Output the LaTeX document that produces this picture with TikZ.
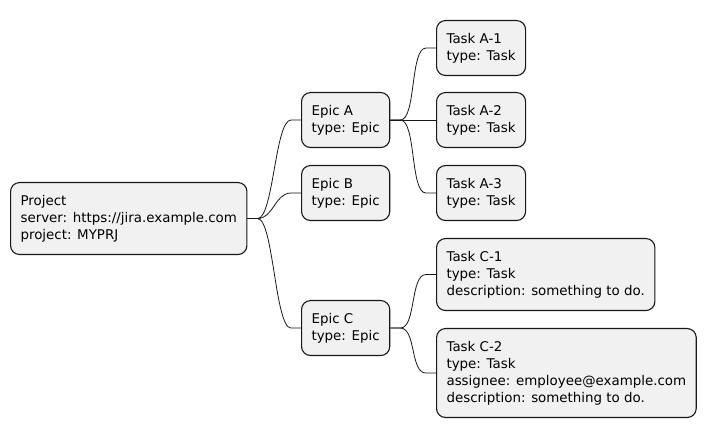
\documentclass[tikz,border=0pt]{standalone}
\usepackage{fontspec}
\setmainfont{DejaVu Sans}
\definecolor{boxfill}{HTML}{F1F1F1}
\definecolor{boxline}{HTML}{181818}
\tikzset{
  mmbox/.style={draw=boxline, fill=boxfill, line width=1.1pt, rounded corners=9pt,
    align=left, anchor=north west, inner xsep=10pt, inner ysep=12.5pt,
    font=\fontsize{13.4}{17}\selectfont},
  link/.style={draw=boxline, line width=0.8pt}
}
\newcommand{\mmlink}[2]{\draw[link] (#1.east) -- ++(10,0) .. controls +(16,0) and ([xshift=-26pt]#2.west) .. ([xshift=-10pt]#2.west) -- (#2.west);}
\begin{document}
\begin{tikzpicture}[x=1pt,y=-1pt]
\useasboundingbox (0,0) rectangle (705,435);
\node[mmbox] (p) at (10,182) {Project\\server: https://jira.example.com\\project: MYPRJ};
\node[mmbox] (ea) at (301,92) {Epic A\\type: Epic};
\node[mmbox] (eb) at (301,165) {Epic B\\type: Epic};
\node[mmbox] (ec) at (301,300) {Epic C\\type: Epic};
\node[mmbox] (ta1) at (436,20) {Task A-1\\type: Task};
\node[mmbox] (ta2) at (436,92) {Task A-2\\type: Task};
\node[mmbox] (ta3) at (436,165) {Task A-3\\type: Task};
\node[mmbox] (tc1) at (436,238) {Task C-1\\type: Task\\description: something to do.};
\node[mmbox] (tc2) at (436,328) {Task C-2\\type: Task\\assignee: employee@example.com\\description: something to do.};
\mmlink{p}{ea}
\mmlink{p}{eb}
\mmlink{p}{ec}
\mmlink{ea}{ta1}
\mmlink{ea}{ta2}
\mmlink{ea}{ta3}
\mmlink{ec}{tc1}
\mmlink{ec}{tc2}
\end{tikzpicture}
\end{document}
